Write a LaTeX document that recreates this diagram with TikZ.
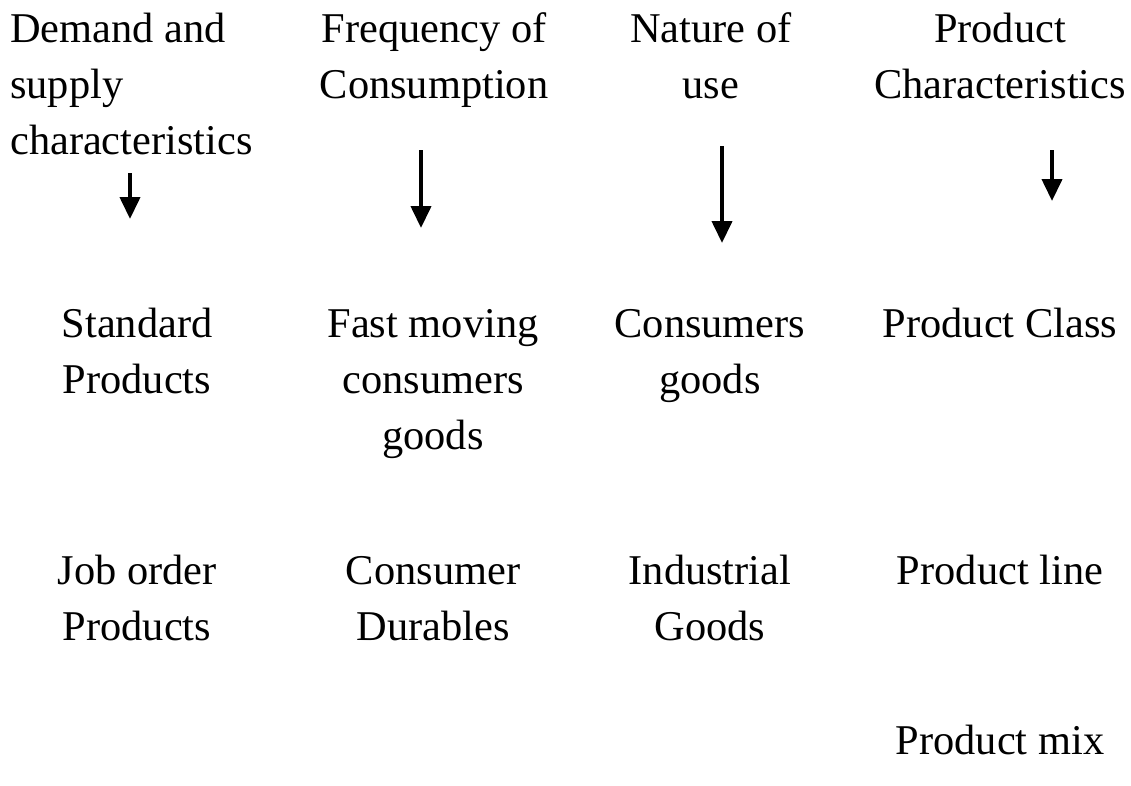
\documentclass[tikz,border=0pt]{standalone}
\usepackage{fontspec}
\setmainfont{Liberation Serif}
\usepackage{tikz}
\usetikzlibrary{arrows.meta}

\tikzset{
    lbl/.style={inner sep=0pt, align=center, anchor=base, font=\fontsize{42.4}{56}\selectfont},
    arr/.style={line width=4pt, -{Triangle[width=20pt,length=22pt]}}
}

\begin{document}
\begin{tikzpicture}[x=1pt,y=-1pt]
            \useasboundingbox (0,0) rectangle (1131,785);

            % headings (base = last line)
            \node[lbl, align=left, anchor=base west] (demand) at (10,154) {Demand and\\supply\\characteristics};
            \node[lbl] (freq) at (434,98) {Frequency of\\Consumption};
            \node[lbl] (nature) at (711,98) {Nature of\\use};
            \node[lbl] (prodchar) at (1000,98) {Product\\Characteristics};

            % arrows
            \coordinate (a1s) at (130,173);
            \coordinate (a1e) at (130,219);
            \coordinate (a2s) at (421,150);
            \coordinate (a2e) at (421,228);
            \coordinate (a3s) at (722,146);
            \coordinate (a3e) at (722,243);
            \coordinate (a4s) at (1052,150);
            \coordinate (a4e) at (1052,201);
            \draw[arr] (a1s) -- (a1e);
            \draw[arr] (a2s) -- (a2e);
            \draw[arr] (a3s) -- (a3e);
            \draw[arr] (a4s) -- (a4e);

            % second row
            \node[lbl] (standard) at (137,393) {Standard\\Products};
            \node[lbl] (fmcg) at (433,449) {Fast moving\\consumers\\goods};
            \node[lbl] (consgoods) at (710,393) {Consumers\\goods};
            \node[lbl] (pclass) at (1000,337) {Product Class};

            % third row
            \node[lbl] (joborder) at (137,640) {Job order\\Products};
            \node[lbl] (durables) at (433,640) {Consumer\\Durables};
            \node[lbl] (industrial) at (710,640) {Industrial\\Goods};
            \node[lbl] (pline) at (1000,584) {Product line};

            \node[lbl] (pmix) at (1000,754) {Product mix};
        \end{tikzpicture}
\end{document}
